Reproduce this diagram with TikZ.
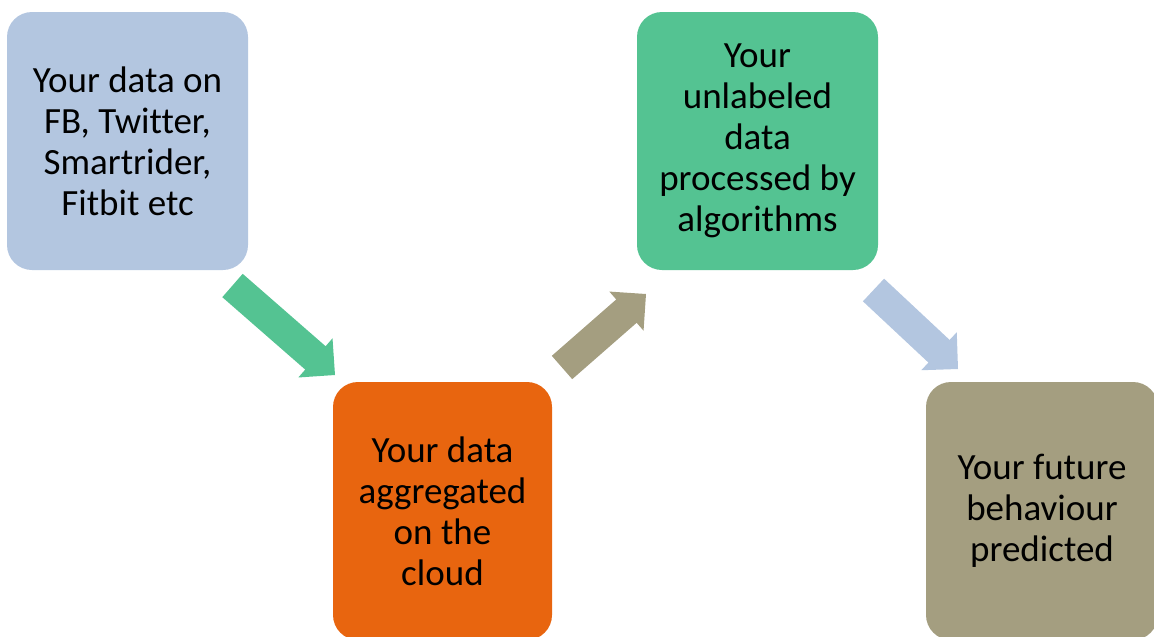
\documentclass[tikz,border=0pt]{standalone}
\usepackage{fontspec}
\setmainfont[Ligatures=NoCommon]{Carlito}
\usetikzlibrary{calc}

\definecolor{boxblue}{HTML}{B3C6E0}
\definecolor{boxorange}{HTML}{E8650F}
\definecolor{boxgreen}{HTML}{54C392}
\definecolor{boxtan}{HTML}{A49E80}

\tikzset{
  stepbox/.style={rounded corners=25pt, minimum height=258pt, align=center,
    font=\fontsize{37}{41}\selectfont, inner sep=0pt}
}

% block arrow: colour, tail, tip
\newcommand{\blockarr}[3]{%
  \fill[#1] ($(#2)!15.5pt!90:(#3)$) -- ($($(#3)!26pt!(#2)$)!15.5pt!-90:(#2)$)
    -- ($($(#3)!26pt!(#2)$)!26pt!-90:(#2)$) -- (#3)
    -- ($($(#3)!26pt!(#2)$)!26pt!90:(#2)$)
    -- ($($(#3)!26pt!(#2)$)!15.5pt!90:(#2)$)
    -- ($(#2)!15.5pt!-90:(#3)$) -- cycle;}

\begin{document}
\begin{tikzpicture}[x=1pt,y=-1pt]
  \useasboundingbox (0,0) rectangle (1154,637);

  \node[stepbox, fill=boxblue, minimum width=241pt] (social) at (127.5,141)
    {Your data on\\FB, Twitter,\\Smartrider,\\Fitbit etc};
  \node[stepbox, fill=boxorange, minimum width=219pt] (cloud) at (442.5,511)
    {Your data\\aggregated\\on the\\cloud};
  \node[stepbox, fill=boxgreen, minimum width=241pt] (algo) at (757.5,141)
    {Your\\unlabeled\\data\\processed by\\algorithms};
  \node[stepbox, fill=boxtan, minimum width=232pt] (future) at (1042,511)
    {Your future\\behaviour\\predicted};

  \coordinate (a1s) at (232.5,285.5);
  \coordinate (a1e) at (335,375);
  \coordinate (a2s) at (562,367.5);
  \coordinate (a2e) at (646,294);
  \coordinate (a3s) at (873.5,290);
  \coordinate (a3e) at (958,369);

  \blockarr{boxgreen}{a1s}{a1e}
  \blockarr{boxtan}{a2s}{a2e}
  \blockarr{boxblue}{a3s}{a3e}
\end{tikzpicture}
\end{document}
